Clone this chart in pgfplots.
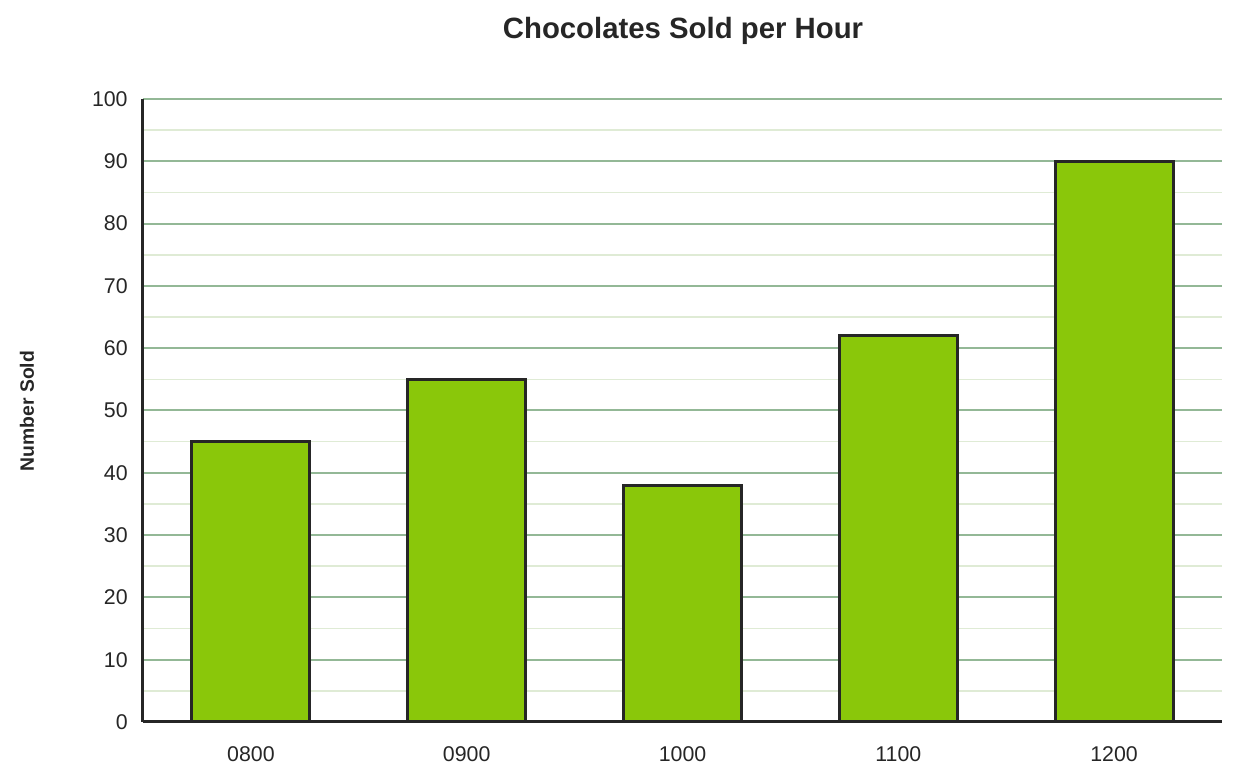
\documentclass[border=0pt]{standalone}
\usepackage{pgfplots}
\pgfplotsset{compat=1.18}
\usepackage{fontspec}
\setmainfont{Liberation Sans}
\definecolor{barg}{HTML}{8AC70A}
\definecolor{majg}{HTML}{93B896}
\definecolor{ming}{HTML}{DFEBD5}
\definecolor{dk}{HTML}{262626}
\begin{document}
\begin{tikzpicture}
\useasboundingbox (-107.25pt,-44.25pt) rectangle (823.5pt,541.5pt);
\begin{axis}[at={(0,0)},anchor=south west,
 scale only axis, width=809.25pt, height=467.25pt,
 xmin=-0.5, xmax=4.5, ymin=0, ymax=100,
 xtick={0,1,2,3,4}, xticklabels={0800,0900,1000,1100,1200},
 ytick={0,10,...,100}, minor ytick={5,15,...,95},
 ymajorgrids, yminorgrids,
 major grid style={majg, line width=1.5pt},
 minor grid style={ming, line width=1.2pt},
 axis x line*=bottom, axis y line*=left,
 axis line style={dk, line width=2.25pt, -},
 major tick length=0pt, minor tick length=0pt,
 tick label style={font=\fontsize{16}{19}\selectfont, text=dk},
 /pgf/number format/assume math mode=true,
 xticklabel style={yshift=-15pt},
 yticklabel style={xshift=-8pt},
 ybar, bar width=88.5pt,
 clip=false,
]
\addplot[fill=barg, draw=dk, line width=2.25pt] coordinates {(0,45) (1,55) (2,38) (3,62) (4,90)};
\end{axis}
\node[font=\bfseries\fontsize{22}{26}\selectfont, text=dk] at (405pt,518.25pt) {Chocolates Sold per Hour};
\node[font=\bfseries\fontsize{14.5}{17}\selectfont, text=dk, rotate=90] at (-87pt,233.25pt) {Number Sold};
\end{tikzpicture}
\end{document}
